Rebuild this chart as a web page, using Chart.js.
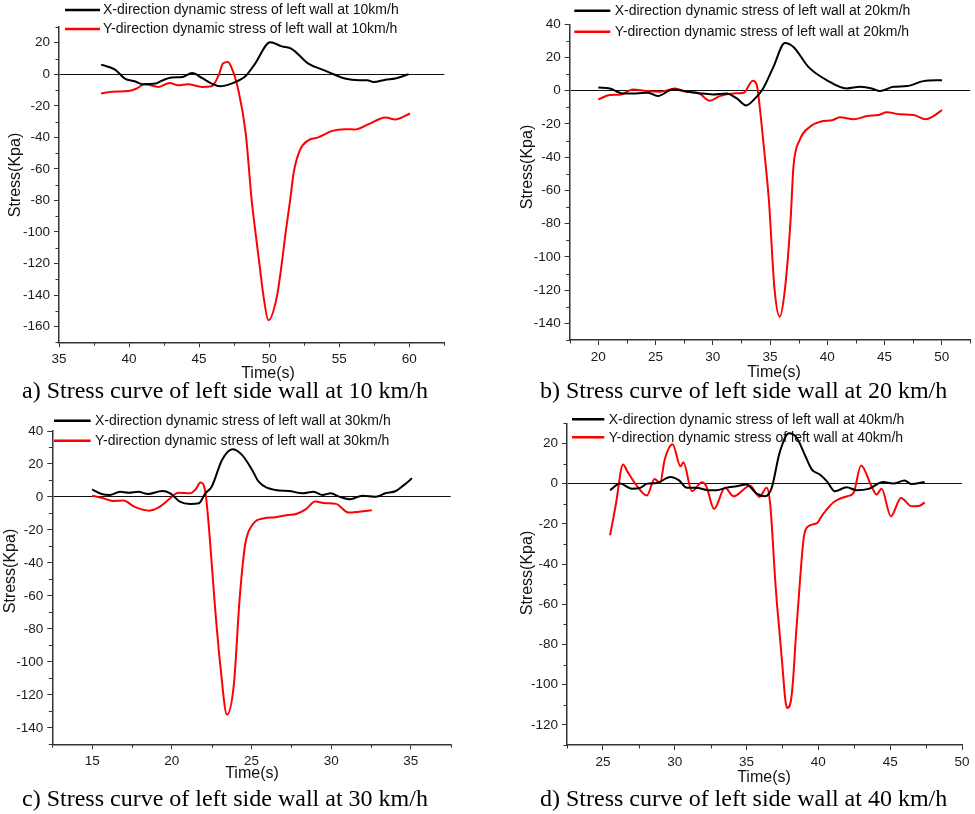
<!DOCTYPE html>
<html><head><meta charset="utf-8">
<script src="https://cdn.jsdelivr.net/npm/chart.js@4.4.0/dist/chart.umd.min.js"></script>
<style>
html,body{margin:0;padding:0;background:#fff}
body{width:975px;height:814px;overflow:hidden;position:relative;font-family:"Liberation Sans",Arial,sans-serif}
canvas{position:absolute}
.cap{position:absolute;font-family:"Liberation Serif","Times New Roman",serif;font-size:24px;line-height:1;white-space:nowrap;color:#000}
.xt{position:absolute;font-size:16px;line-height:1;transform:translate(-50%,-50%);white-space:nowrap;color:#111}
.yt{position:absolute;font-size:16px;line-height:1;transform:translate(-50%,-50%) rotate(-90deg);white-space:nowrap;color:#111}
</style></head><body>
<canvas id="ca" width="487" height="400" style="left:0px;top:0px"></canvas>
<canvas id="cb" width="488" height="400" style="left:487px;top:0px"></canvas>
<canvas id="cc" width="487" height="400" style="left:0px;top:405px"></canvas>
<canvas id="cd" width="488" height="400" style="left:487px;top:405px"></canvas>

<div class="yt" style="left:15px;top:175px">Stress(Kpa)</div>
<div class="yt" style="left:527px;top:167px">Stress(Kpa)</div>
<div class="yt" style="left:10px;top:571px">Stress(Kpa)</div>
<div class="yt" style="left:527px;top:573px">Stress(Kpa)</div>

<div class="xt" style="left:268px;top:373px">Time(s)</div>
<div class="xt" style="left:774px;top:372px">Time(s)</div>
<div class="xt" style="left:252px;top:773px">Time(s)</div>
<div class="xt" style="left:764px;top:777px">Time(s)</div>

<div class="cap" style="left:22px;top:378px">a) Stress curve of left side wall at 10 km/h</div>
<div class="cap" style="left:540px;top:378px">b) Stress curve of left side wall at 20 km/h</div>
<div class="cap" style="left:22px;top:786px">c) Stress curve of left side wall at 30 km/h</div>
<div class="cap" style="left:540px;top:786px">d) Stress curve of left side wall at 40 km/h</div>

<script>
// ---------------- DATA ----------------
// Panel a: 10 km/h
const aLabels = ["X-direction dynamic stress of left wall at 10km/h", "Y-direction dynamic stress of left wall at 10km/h"];
const aTimeX = [38, 39, 39.7, 40.4, 41.0, 41.9, 42.3, 43.05, 43.8, 44.5, 45.2, 45.9, 46.5, 47.3, 48.3, 49, 50.07, 50.9, 51.6, 52.8, 53.8, 54.6, 55.4, 56.4, 57, 57.45, 58.3, 59, 59.95];
const aStressX = [6.1, 3, -2.7, -4.4, -6.3, -5.9, -4.2, -2.1, -1.7, 0.8, -2.3, -5.9, -7.6, -5.9, -1.3, 6.8, 20.4, 17.7, 16.2, 6.8, 3, 0, -2.7, -3.8, -3.8, -4.9, -3.4, -2.7, 0];
const aTimeY = [38, 38.8, 39.95, 40.55, 41.1, 42.1, 42.9, 43.5, 44.2, 45.2, 45.9, 46.4, 46.7, 47.05, 47.3, 47.8, 48.33, 48.75, 49.0, 49.3, 49.6, 49.95, 50.55, 50.9, 51.2, 51.5, 51.74, 52.2, 52.8, 53.5, 54.5, 55.4, 56.1, 57.1, 58.3, 59, 60.05];
const aStressY = [-12.2, -11, -10.6, -9, -6.3, -8, -5.5, -7, -6.3, -8, -7.6, -0.6, 6.8, 7.8, 4.6, -10, -37.6, -79.7, -98.7, -120, -141, -156, -141, -120, -98.7, -79.7, -62.9, -48, -41.8, -40, -35.9, -34.8, -35, -31.6, -27.4, -28.7, -24.9];
const aXTicks = [35, 40, 45, 50, 55, 60];
const aYTicks = [-160, -140, -120, -100, -80, -60, -40, -20, 0, 20];

// Panel b: 20 km/h
const bLabels = ["X-direction dynamic stress of left wall at 20km/h", "Y-direction dynamic stress of left wall at 20km/h"];
const bTimeX = [20, 21, 22.15, 23.3, 24.35, 25.2, 26.5, 27.85, 28.9, 30, 31.2, 32.1, 32.9, 33.7, 34.4, 35.3, 36.3, 37.05, 38.35, 39.95, 41.7, 42.9, 43.9, 44.6, 45.8, 46.97, 48.4, 50.03];
const bStressX = [2, 1.4, -1.6, -1.6, -1.2, -3.2, 0.8, -0.6, -1.6, -2.2, -1.6, -4.6, -8.8, -4.6, 1.4, 14.4, 28.8, 26.4, 14.4, 6.4, 1.4, 2.4, 1.4, -0.2, 2.4, 2.8, 5.8, 6.4];
const bTimeY = [20, 21, 22, 23, 24.2, 25.4, 26.7, 27.7, 28.7, 29.75, 30.6, 31.8, 32.7, 33.5, 33.85, 34.1, 34.4, 34.9, 35.4, 35.85, 36.3, 36.8, 37.05, 37.6, 38.5, 39.4, 40.5, 41.1, 42.3, 43.5, 44.5, 45.2, 46.4, 47.55, 48.6, 49.2, 50.03];
const bStressY = [-5.2, -2.6, -2.2, 0.8, -0.2, -0.6, 1.4, -0.6, -1.2, -6, -3.2, -1.6, -1.2, 6, 3.4, -9.6, -29.6, -65.6, -119.7, -136, -119.7, -77.7, -45.6, -29.6, -21.6, -18.6, -17.6, -16, -17.2, -15.2, -14.6, -13, -14.2, -14.6, -17.2, -15.6, -11.6];
const bXTicks = [20, 25, 30, 35, 40, 45, 50];
const bYTicks = [-140, -120, -100, -80, -60, -40, -20, 0, 20, 40];

// Panel c: 30 km/h
const cLabels = ["X-direction dynamic stress of left wall at 30km/h", "Y-direction dynamic stress of left wall at 30km/h"];
const cTimeX = [15, 15.6, 16.1, 16.75, 17.3, 17.9, 18.5, 19.4, 19.9, 20.5, 21.15, 21.7, 22.1, 22.5, 23.15, 23.8, 24.4, 25.04, 25.45, 26.5, 27.35, 28.2, 28.9, 29.45, 29.97, 30.5, 31.2, 31.96, 32.8, 33.4, 34.06, 34.5, 35.07];
const cStressX = [4.6, 1.8, 1.2, 3.2, 2.6, 3.2, 1.8, 3.6, 2.2, -2.8, -4.2, -3.8, 2.2, 6.2, 22.4, 28.9, 25.5, 16.4, 9.3, 4.2, 3.6, 2.2, 3.2, 1.2, 2.2, 0.2, -1.4, 0.8, 0.2, 2.2, 3.6, 6.7, 11.3];
const cTimeY = [15, 15.7, 16.3, 16.95, 17.7, 18.6, 19.2, 19.9, 20.4, 21.15, 21.5, 21.8, 22.1, 22.35, 22.7, 23.05, 23.46, 23.9, 24.25, 24.6, 25.05, 25.8, 26.5, 27.24, 27.8, 28.4, 29, 29.65, 30.3, 31.1, 31.75, 32.55];
const cStressY = [0.8, -0.8, -2.4, -2.2, -6.2, -8.3, -6.2, -0.8, 2.6, 2.2, 4.7, 8.7, 3.2, -21, -65.5, -102.8, -132, -113, -62.4, -29, -17, -12.9, -12.3, -10.9, -10.3, -7.5, -2.8, -3.8, -4.2, -9.5, -8.9, -8.1];
const cXTicks = [15, 20, 25, 30, 35];
const cYTicks = [-140, -120, -100, -80, -60, -40, -20, 0, 20, 40];

// Panel d: 40 km/h
const dLabels = ["X-direction dynamic stress of left wall at 40km/h", "Y-direction dynamic stress of left wall at 40km/h"];
const dTimeX = [25.5, 26.2, 27.0, 27.6, 28.1, 28.75, 29.7, 30.3, 30.85, 31.5, 32.35, 32.9, 33.6, 34.3, 35.0, 35.7, 36.3, 36.75, 37.3, 37.95, 38.5, 39.1, 39.55, 40.1, 40.6, 41.15, 41.97, 42.66, 43.5, 44.5, 45.2, 46.0, 46.5, 47.4];
const dStressX = [-3.3, 0, -2.5, -2.1, 0, 0.3, 3.3, 1.6, -2.1, -2.1, -3.3, -3.3, -2, -1.3, -0.5, -5, -6.3, -2.1, 15.3, 25, 22.7, 13.6, 7, 4.5, 1.1, -3.8, -1.8, -3.3, -2.6, 0.8, 0, 1.5, -0.2, 0.8];
const dTimeY = [25.5, 25.9, 26.4, 26.7, 27.3, 28.06, 28.6, 28.98, 29.3, 29.85, 30.4, 30.6, 31.2, 31.9, 32.2, 32.74, 33.5, 34.1, 35.25, 35.9, 36.4, 36.65, 37.0, 37.12, 37.3, 37.5, 37.7, 37.82, 38.1, 38.24, 38.45, 38.6, 38.98, 39.3, 39.9, 40.3, 41.1, 42.0, 42.45, 42.97, 43.7, 44.05, 44.4, 45.05, 45.75, 46.5, 47.06, 47.4];
const dStressY = [-25.7, -10.4, 9.5, 6.1, -0.5, -5.9, 2.3, 0.3, 11.9, 19.6, 8.6, 10.6, -3.8, 0.7, -1.3, -12.6, -2.1, -6.3, -1, -6.6, -2, -10.4, -48.6, -60, -74.3, -91, -107.5, -111.6, -107.5, -97.5, -74.3, -60, -27, -21.2, -19.6, -15.4, -9, -6.3, -4.6, 9, -1.3, -5.5, -2.6, -16.3, -7.1, -11.3, -11, -9.3];
const dXTicks = [25, 30, 35, 40, 45, 50];
const dYTicks = [-120, -100, -80, -60, -40, -20, 0, 20];

// ---------------- PLUMBING ----------------
const AXIS = '#333';
const TICKFONT = {family: '"Liberation Sans", Arial, sans-serif', size: 13.5};

const minorTicks = {
  id: 'minorTicks',
  afterDraw(chart, args, o) {
    const ctx = chart.ctx, xs = chart.scales.x, ys = chart.scales.y;
    ctx.save(); ctx.strokeStyle = AXIS; ctx.lineWidth = 1;
    for (let v = xs.min; v <= xs.max + 1e-9; v += o.xStep) {
      if (Math.abs(v / o.xMajor - Math.round(v / o.xMajor)) < 1e-6) continue;
      const p = Math.round(xs.getPixelForValue(v)) + 0.5;
      ctx.beginPath(); ctx.moveTo(p, xs.top); ctx.lineTo(p, xs.top + 3.5); ctx.stroke();
    }
    for (let v = ys.min; v <= ys.max + 1e-9; v += o.yStep) {
      if (Math.abs(v / o.yMajor - Math.round(v / o.yMajor)) < 1e-6) continue;
      const p = Math.round(ys.getPixelForValue(v)) + 0.5;
      ctx.beginPath(); ctx.moveTo(ys.right, p); ctx.lineTo(ys.right - 3.5, p); ctx.stroke();
    }
    ctx.restore();
  }
};

const overlayLegend = {
  id: 'overlayLegend',
  beforeDatasetsDraw(chart, args, o) {
    const ctx = chart.ctx;
    ctx.save();
    ctx.font = '14px "Liberation Sans", Arial, sans-serif';
    ctx.textBaseline = 'middle';
    chart.data.datasets.forEach((ds, i) => {
      const y = o.y[i];
      ctx.strokeStyle = ds.borderColor; ctx.lineWidth = 2.5;
      ctx.beginPath(); ctx.moveTo(o.x0, y); ctx.lineTo(o.x1, y); ctx.stroke();
      ctx.fillStyle = '#111';
      ctx.fillText(ds.label, o.tx, y + 0.5);
    });
    ctx.restore();
  }
};

function pts(xs, ys) { return xs.map((x, i) => ({x: x, y: ys[i]})); }

function makeChart(id, p) {
  return new Chart(document.getElementById(id), {
    type: 'line',
    data: {
      datasets: [
        {label: p.labels[0], data: pts(p.tx, p.sx), borderColor: '#000000', borderWidth: 2, pointRadius: 0, cubicInterpolationMode: 'monotone', fill: false},
        {label: p.labels[1], data: pts(p.ty, p.sy), borderColor: '#ff0000', borderWidth: 2, pointRadius: 0, cubicInterpolationMode: 'monotone', fill: false}
      ]
    },
    options: {
      responsive: false, animation: false, events: [],
      layout: {padding: {left: 0, top: p.padTop, right: p.padRight, bottom: 0}},
      plugins: {
        legend: {display: false}, tooltip: {enabled: false}, title: {display: false},
        overlayLegend: p.legend,
        minorTicks: {xStep: p.xStep, xMajor: p.xMajor, yStep: 10, yMajor: 20}
      },
      scales: {
        x: {
          type: 'linear', position: 'bottom', min: p.xMin, max: p.xMax,
          afterBuildTicks: s => { s.ticks = p.xTicks.map(v => ({value: v})); },
          afterFit: s => { s.height = p.xH; },
          grid: {drawOnChartArea: false, drawTicks: true, tickLength: 5, tickColor: AXIS, tickWidth: 1},
          border: {display: true, color: AXIS, width: 1.5},
          ticks: {font: TICKFONT, color: '#1a1a1a', padding: 4, maxRotation: 0, autoSkip: false, callback: v => String(v)}
        },
        y: {
          type: 'linear', position: 'left', min: p.yMin, max: p.yMax,
          afterBuildTicks: s => { s.ticks = p.yTicks.map(v => ({value: v})); },
          afterFit: s => { s.width = p.yW; },
          grid: {
            drawOnChartArea: true, drawTicks: true, tickLength: 5, tickWidth: 1, tickColor: AXIS,
            color: c => (c.tick && c.tick.value === 0) ? '#111' : 'rgba(0,0,0,0)', lineWidth: 1
          },
          border: {display: true, color: AXIS, width: 1.5},
          ticks: {font: TICKFONT, color: '#1a1a1a', padding: 4, autoSkip: false, callback: v => String(v)}
        }
      }
    },
    plugins: [overlayLegend, minorTicks]
  });
}

makeChart('ca', {
  labels: aLabels, tx: aTimeX, sx: aStressX, ty: aTimeY, sy: aStressY,
  xTicks: aXTicks, yTicks: aYTicks, xMin: 35, xMax: 62.5, yMin: -170, yMax: 30,
  xStep: 2.5, xMajor: 5, yW: 59, xH: 57.7, padTop: 27, padRight: 42.7,
  legend: {x0: 65, x1: 100, tx: 103, y: [10, 29]}
});
makeChart('cb', {
  labels: bLabels, tx: bTimeX, sx: bStressX, ty: bTimeY, sy: bStressY,
  xTicks: bXTicks, yTicks: bYTicks, xMin: 17.5, xMax: 52.5, yMin: -150, yMax: 40,
  xStep: 2.5, xMajor: 5, yW: 82.7, xH: 60, padTop: 24.3, padRight: 4.7,
  legend: {x0: 87.3, x1: 123.3, tx: 127.7, y: [10.7, 31.7]}
});
makeChart('cc', {
  labels: cLabels, tx: cTimeX, sx: cStressX, ty: cTimeY, sy: cStressY,
  xTicks: cXTicks, yTicks: cYTicks, xMin: 12.5, xMax: 37.5, yMin: -150, yMax: 40,
  xStep: 2.5, xMajor: 5, yW: 52.3, xH: 60.7, padTop: 26, padRight: 36.3,
  legend: {x0: 54, x1: 90.7, tx: 95, y: [15.7, 35.7]}
});
makeChart('cd', {
  labels: dLabels, tx: dTimeX, sx: dStressX, ty: dTimeY, sy: dStressY,
  xTicks: dXTicks, yTicks: dYTicks, xMin: 22.5, xMax: 50, yMin: -130, yMax: 30,
  xStep: 2.5, xMajor: 5, yW: 80, xH: 60, padTop: 18.3, padRight: 13,
  legend: {x0: 85, x1: 117.3, tx: 121.7, y: [14.3, 32.3]}
});
</script>
</body></html>
